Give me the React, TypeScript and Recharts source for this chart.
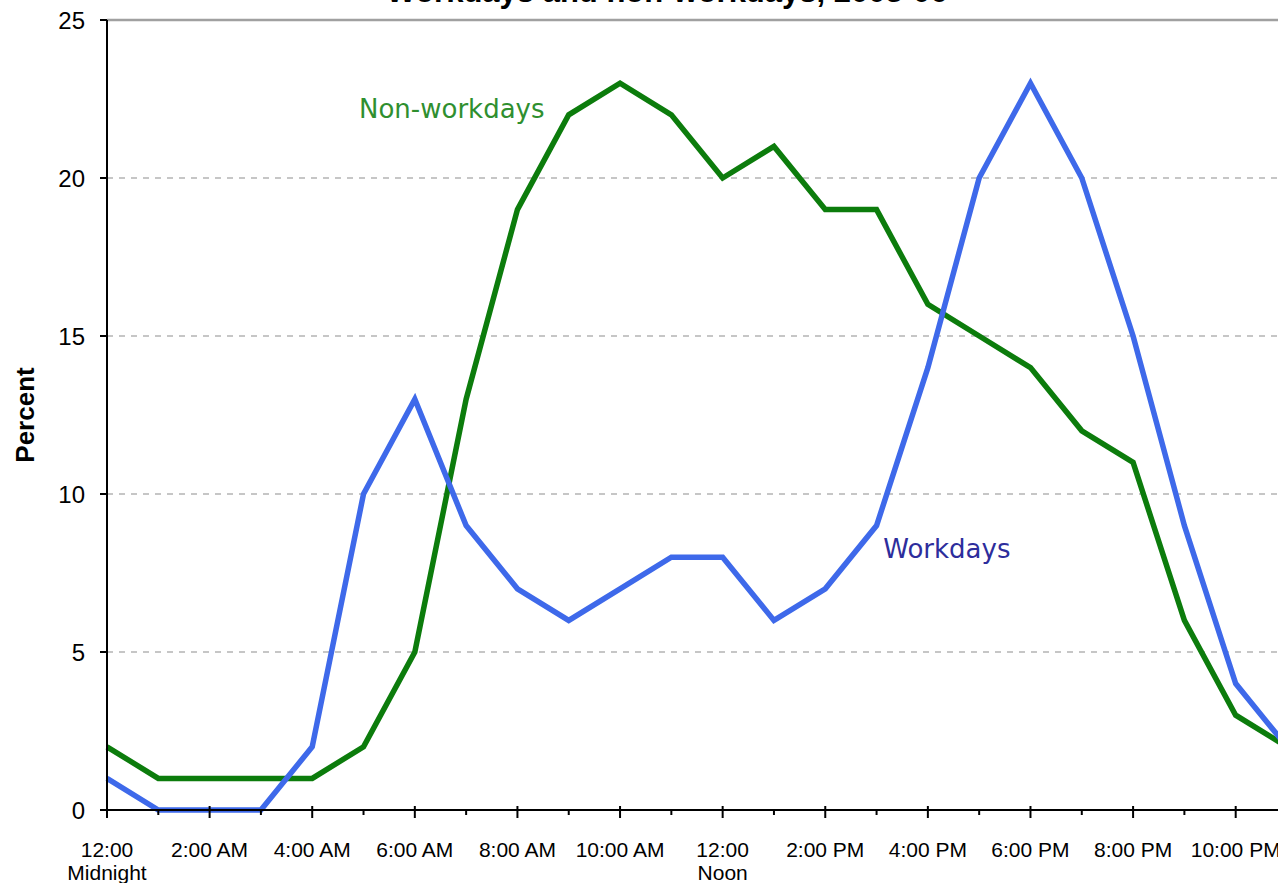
import { LineChart, Line, XAxis, YAxis, CartesianGrid, ReferenceLine, ReferenceDot } from 'recharts';

// hour of day, 0 = midnight
const hours = [0, 1, 2, 3, 4, 5, 6, 7, 8, 9, 10, 11, 12, 13, 14, 15, 16, 17, 18, 19, 20, 21, 22, 23];

const workdays = [1, 0, 0, 0, 2, 10, 13, 9, 7, 6, 7, 8, 8, 6, 7, 9, 14, 20, 23, 20, 15, 9, 4, 2];
const nonWorkdays = [2, 1, 1, 1, 1, 2, 5, 13, 19, 22, 23, 22, 20, 21, 19, 19, 16, 15, 14, 12, 11, 6, 3, 2];

const hourLabels = [
  '12:00', '', '2:00 AM', '', '4:00 AM', '', '6:00 AM', '', '8:00 AM', '', '10:00 AM', '',
  '12:00', '', '2:00 PM', '', '4:00 PM', '', '6:00 PM', '', '8:00 PM', '', '10:00 PM', '',
];
const hourSubLabels = [
  'Midnight', '', '', '', '', '', '', '', '', '', '', '',
  'Noon', '', '', '', '', '', '', '', '', '', '', '',
];

const yTicks = [0, 5, 10, 15, 20, 25];

const data = hours.map((hour, i) => ({
  hour,
  workdays: workdays[i],
  nonWorkdays: nonWorkdays[i],
}));

const FONT = '"Liberation Sans", Arial, sans-serif';

function HourTick(props: any) {
  const { x, y, payload } = props;
  const i = payload.value;
  const major = i % 2 === 0;
  return (
    <g>
      <line
        x1={x}
        x2={x}
        y1={major ? y - 4 : y}
        y2={major ? y + 8 : y + 5}
        stroke="#000"
        strokeWidth={2}
      />
      {hourLabels[i] && (
        <text x={x} y={y + 47} textAnchor="middle" fontSize={21} fontFamily={FONT} fill="#000">
          {hourLabels[i]}
        </text>
      )}
      {hourSubLabels[i] && (
        <text x={x} y={y + 70} textAnchor="middle" fontSize={21} fontFamily={FONT} fill="#000">
          {hourSubLabels[i]}
        </text>
      )}
    </g>
  );
}

export default function App() {
  return (
    <div
      style={{
        position: 'absolute',
        left: 0,
        top: 0,
        width: 1278,
        height: 883,
        overflow: 'hidden',
        background: '#fff',
      }}
    >
      <div
        style={{
          position: 'absolute',
          top: -24,
          left: 0,
          width: 1334,
          textAlign: 'center',
          fontFamily: FONT,
          fontWeight: 'bold',
          fontSize: 31,
          lineHeight: '31px',
        }}
      >
        Workdays and non-workdays, 2003-06
      </div>
      <LineChart
        width={1310}
        height={883}
        data={data}
        margin={{ top: 20, right: 23, left: 0, bottom: 0 }}
      >
        <CartesianGrid vertical={false} stroke="#b4b4b4" strokeDasharray="6 6" strokeWidth={1.5} />
        <ReferenceLine y={25} stroke="#a0a0a0" strokeWidth={2.5} />
        <XAxis
          dataKey="hour"
          type="number"
          domain={[0, 23]}
          ticks={hours}
          interval={0}
          height={73}
          tickSize={0}
          tickMargin={0}
          tickLine={false}
          axisLine={{ stroke: '#000', strokeWidth: 2 }}
          tick={<HourTick />}
        />
        <YAxis
          domain={[0, 25]}
          ticks={yTicks}
          width={107}
          tickSize={7}
          tickMargin={15}
          axisLine={{ stroke: '#000', strokeWidth: 2 }}
          tickLine={{ stroke: '#000', strokeWidth: 2 }}
          tick={{ fill: '#000', fontSize: 24, fontFamily: FONT }}
          label={{
            value: 'Percent',
            angle: -90,
            position: 'insideLeft',
            offset: 25,
            style: { textAnchor: 'middle', fontWeight: 'bold', fontSize: 26, fontFamily: FONT, fill: '#000' },
          }}
        />
        <Line
          type="linear"
          dataKey="nonWorkdays"
          stroke="#0c7c0c"
          strokeWidth={5.5}
          dot={false}
          isAnimationActive={false}
        />
        <Line
          type="linear"
          dataKey="workdays"
          stroke="#3e69ea"
          strokeWidth={5.5}
          dot={false}
          isAnimationActive={false}
        />
        <ReferenceDot
          x={6.72}
          y={22.2}
          r={0}
          fill="none"
          stroke="none"
          ifOverflow="visible"
          label={{ value: 'Non-workdays', position: 'center', fill: '#2f8f2f', fontSize: 26, fontFamily: '"DejaVu Sans", sans-serif' }}
        />
        <ReferenceDot
          x={16.37}
          y={8.26}
          r={0}
          fill="none"
          stroke="none"
          ifOverflow="visible"
          label={{ value: 'Workdays', position: 'center', fill: '#2d2d9c', fontSize: 26, fontFamily: '"DejaVu Sans", sans-serif' }}
        />
      </LineChart>
    </div>
  );
}
